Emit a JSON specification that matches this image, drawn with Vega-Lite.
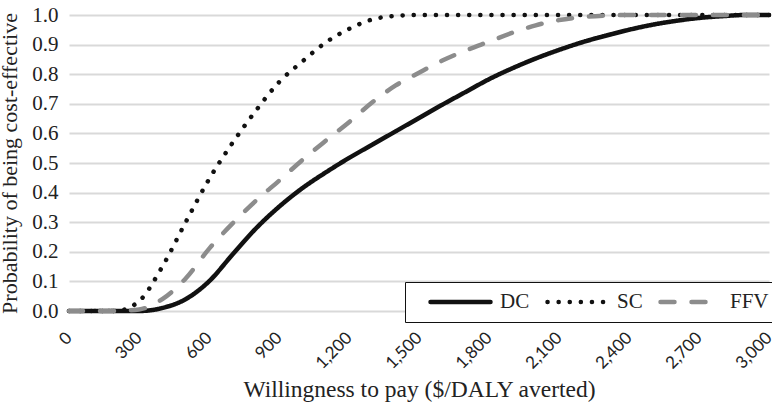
{
  "$schema": "https://vega.github.io/schema/vega-lite/v6.json",
  "autosize": "none",
  "width": 700,
  "height": 296,
  "padding": {"left": 69, "top": 15, "right": 3, "bottom": 95},
  "background": "white",
  "datasets": {
    "curves": [
      {"wtp": 0, "series": "DC", "p": 0}, {"wtp": 100, "series": "DC", "p": 0}, {"wtp": 200, "series": "DC", "p": 0}, {"wtp": 300, "series": "DC", "p": 0},
      {"wtp": 400, "series": "DC", "p": 0.01}, {"wtp": 500, "series": "DC", "p": 0.04}, {"wtp": 600, "series": "DC", "p": 0.10}, {"wtp": 700, "series": "DC", "p": 0.19},
      {"wtp": 800, "series": "DC", "p": 0.278}, {"wtp": 900, "series": "DC", "p": 0.352}, {"wtp": 1000, "series": "DC", "p": 0.415}, {"wtp": 1100, "series": "DC", "p": 0.468},
      {"wtp": 1200, "series": "DC", "p": 0.517}, {"wtp": 1300, "series": "DC", "p": 0.562}, {"wtp": 1400, "series": "DC", "p": 0.607}, {"wtp": 1500, "series": "DC", "p": 0.652},
      {"wtp": 1600, "series": "DC", "p": 0.697}, {"wtp": 1700, "series": "DC", "p": 0.74}, {"wtp": 1800, "series": "DC", "p": 0.783}, {"wtp": 1900, "series": "DC", "p": 0.82},
      {"wtp": 2000, "series": "DC", "p": 0.853}, {"wtp": 2100, "series": "DC", "p": 0.882}, {"wtp": 2200, "series": "DC", "p": 0.908}, {"wtp": 2300, "series": "DC", "p": 0.93},
      {"wtp": 2400, "series": "DC", "p": 0.95}, {"wtp": 2500, "series": "DC", "p": 0.967}, {"wtp": 2600, "series": "DC", "p": 0.98}, {"wtp": 2700, "series": "DC", "p": 0.99},
      {"wtp": 2800, "series": "DC", "p": 0.996}, {"wtp": 2900, "series": "DC", "p": 1.0}, {"wtp": 3000, "series": "DC", "p": 1.0},
      {"wtp": 0, "series": "SC", "p": 0}, {"wtp": 100, "series": "SC", "p": 0}, {"wtp": 200, "series": "SC", "p": 0}, {"wtp": 300, "series": "SC", "p": 0.033},
      {"wtp": 400, "series": "SC", "p": 0.15}, {"wtp": 500, "series": "SC", "p": 0.30}, {"wtp": 600, "series": "SC", "p": 0.445}, {"wtp": 700, "series": "SC", "p": 0.567},
      {"wtp": 800, "series": "SC", "p": 0.676}, {"wtp": 900, "series": "SC", "p": 0.773}, {"wtp": 1000, "series": "SC", "p": 0.843}, {"wtp": 1100, "series": "SC", "p": 0.907},
      {"wtp": 1200, "series": "SC", "p": 0.953}, {"wtp": 1300, "series": "SC", "p": 0.985}, {"wtp": 1400, "series": "SC", "p": 0.997}, {"wtp": 1500, "series": "SC", "p": 1.0},
      {"wtp": 1600, "series": "SC", "p": 1.0}, {"wtp": 1700, "series": "SC", "p": 1.0}, {"wtp": 1800, "series": "SC", "p": 1.0}, {"wtp": 1900, "series": "SC", "p": 1.0},
      {"wtp": 2000, "series": "SC", "p": 1.0}, {"wtp": 2100, "series": "SC", "p": 1.0}, {"wtp": 2200, "series": "SC", "p": 1.0}, {"wtp": 2300, "series": "SC", "p": 1.0},
      {"wtp": 2400, "series": "SC", "p": 1.0}, {"wtp": 2500, "series": "SC", "p": 1.0}, {"wtp": 2600, "series": "SC", "p": 1.0}, {"wtp": 2700, "series": "SC", "p": 1.0},
      {"wtp": 2800, "series": "SC", "p": 1.0}, {"wtp": 2900, "series": "SC", "p": 1.0}, {"wtp": 3000, "series": "SC", "p": 1.0},
      {"wtp": 0, "series": "FFV", "p": 0}, {"wtp": 100, "series": "FFV", "p": 0}, {"wtp": 200, "series": "FFV", "p": 0}, {"wtp": 300, "series": "FFV", "p": 0.005},
      {"wtp": 400, "series": "FFV", "p": 0.04}, {"wtp": 500, "series": "FFV", "p": 0.11}, {"wtp": 600, "series": "FFV", "p": 0.21}, {"wtp": 700, "series": "FFV", "p": 0.295},
      {"wtp": 800, "series": "FFV", "p": 0.372}, {"wtp": 900, "series": "FFV", "p": 0.44}, {"wtp": 1000, "series": "FFV", "p": 0.51}, {"wtp": 1100, "series": "FFV", "p": 0.575},
      {"wtp": 1200, "series": "FFV", "p": 0.638}, {"wtp": 1300, "series": "FFV", "p": 0.705}, {"wtp": 1400, "series": "FFV", "p": 0.762}, {"wtp": 1500, "series": "FFV", "p": 0.805},
      {"wtp": 1600, "series": "FFV", "p": 0.846}, {"wtp": 1700, "series": "FFV", "p": 0.88}, {"wtp": 1800, "series": "FFV", "p": 0.91}, {"wtp": 1900, "series": "FFV", "p": 0.94},
      {"wtp": 2000, "series": "FFV", "p": 0.965}, {"wtp": 2100, "series": "FFV", "p": 0.983}, {"wtp": 2200, "series": "FFV", "p": 0.993}, {"wtp": 2300, "series": "FFV", "p": 0.998},
      {"wtp": 2400, "series": "FFV", "p": 1.0}, {"wtp": 2500, "series": "FFV", "p": 1.0}, {"wtp": 2600, "series": "FFV", "p": 1.0}, {"wtp": 2700, "series": "FFV", "p": 1.0},
      {"wtp": 2800, "series": "FFV", "p": 1.0}, {"wtp": 2900, "series": "FFV", "p": 1.0}, {"wtp": 3000, "series": "FFV", "p": 1.0}
    ]
  },
  "data": {"name": "curves"},
  "mark": {"type": "line", "interpolate": "monotone", "strokeWidth": 4.5, "strokeCap": "round"},
  "encoding": {
    "x": {
      "field": "wtp", "type": "quantitative",
      "scale": {"domain": [0, 3000], "nice": false, "zero": true},
      "axis": {
        "values": [0, 300, 600, 900, 1200, 1500, 1800, 2100, 2400, 2700, 3000],
        "format": ",d",
        "title": "Willingness to pay ($/DALY averted)",
        "labelAngle": -45,
        "labelAlign": "right",
        "labelBaseline": "middle",
        "labelFont": "Lato", "labelFontSize": 17, "labelColor": "#222",
        "labelPadding": 24,
        "titleFont": "Times New Roman", "titleFontSize": 23.5, "titleFontWeight": "normal", "titleColor": "#222",
        "titlePadding": 6,
        "grid": false, "domain": false, "ticks": false
      }
    },
    "y": {
      "field": "p", "type": "quantitative",
      "scale": {"domain": [0, 1], "nice": false},
      "axis": {
        "values": [0, 0.1, 0.2, 0.3, 0.4, 0.5, 0.6, 0.7, 0.8, 0.9, 1.0],
        "format": ".1f",
        "title": "Probability of being cost-effective",
        "labelFont": "Times New Roman", "labelFontSize": 21, "labelColor": "#222",
        "labelPadding": 11,
        "titleFont": "Times New Roman", "titleFontSize": 22, "titleFontWeight": "normal", "titleColor": "#222",
        "titlePadding": 10,
        "grid": true, "gridColor": "#d9d9d9", "gridWidth": 2,
        "domain": false, "ticks": false
      }
    },
    "color": {
      "field": "series", "type": "nominal",
      "sort": ["DC", "SC", "FFV"],
      "scale": {"domain": ["DC", "SC", "FFV"], "range": ["#111111", "#111111", "#8c8c8c"]},
      "legend": {
        "title": null,
        "orient": "none",
        "legendX": 336, "legendY": 267,
        "direction": "horizontal",
        "symbolType": "stroke",
        "symbolSize": 3600,
        "symbolStrokeWidth": 4.5,
        "symbolOffset": 15,
        "clipHeight": 24,
        "labelFont": "Times New Roman", "labelFontSize": 21, "labelColor": "#222",
        "labelOffset": 7,
        "columnPadding": 0,
        "padding": 8,
        "fillColor": "white",
        "strokeColor": "#111",
        "encode": {"symbols": {"update": {"strokeCap": {"value": "round"}}}}
      }
    },
    "strokeDash": {
      "field": "series", "type": "nominal",
      "sort": ["DC", "SC", "FFV"],
      "scale": {"domain": ["DC", "SC", "FFV"], "range": [[1, 0], [0.1, 11], [14, 17]]},
      "legend": null
    }
  },
  "config": {"view": {"stroke": null}}
}
